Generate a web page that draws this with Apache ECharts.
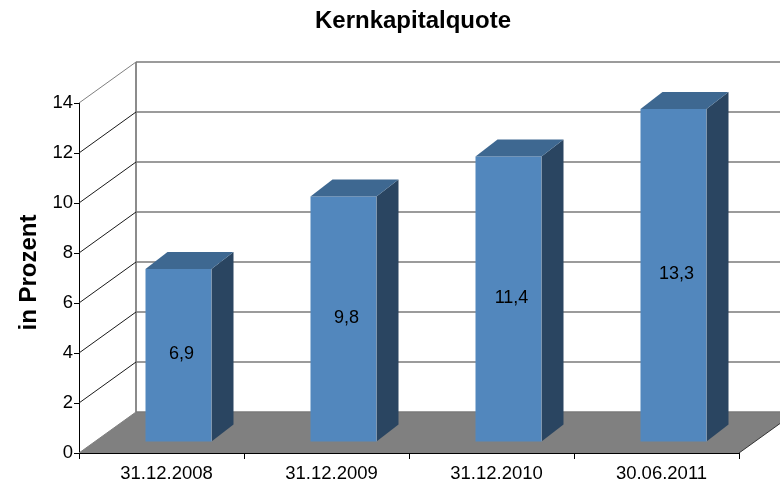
<!DOCTYPE html>
<html>
<head>
<meta charset="utf-8">
<script src="https://cdn.jsdelivr.net/npm/echarts@6/dist/echarts.min.js"></script>
<style>
  html, body { margin: 0; padding: 0; background: #fff; }
  #chart { width: 780px; height: 483px; }
</style>
</head>
<body>
<div id="chart"></div>
<script>
const categories = ['31.12.2008', '31.12.2009', '31.12.2010', '30.06.2011'];
const quote = [6.9, 9.8, 11.4, 13.3];
const yTicks = [0, 2, 4, 6, 8, 10, 12, 14];

// depth of the fake 3d box, px
const DX = 57;
const DY = 41;
// bar sits a bit inside the box
const BAR_DX = 17;
const BAR_DY = 11.5;
const BAR_SIDE_DX = 22;
const BAR_SIDE_DY = 17;
const FONT = '"Liberation Sans", Arial, sans-serif';

function line(x1, y1, x2, y2, stroke, lineWidth) {
  return { type: 'line', shape: { x1, y1, x2, y2 }, style: { stroke, lineWidth } };
}
function poly(points, fill) {
  return { type: 'polygon', shape: { points }, style: { fill } };
}

function renderWall(params, api) {
  const v = api.value(0);
  const y = api.coord([0, v])[1];
  const left = params.coordSys.x;
  const right = left + params.coordSys.width;
  const children = [];
  const diagColor = v === 14 || v === 0 ? '#808080' : '#1a1a1a';
  if (v === 0) {
    children.push(poly([[left, y], [left + DX, y - DY], [right + DX, y - DY], [right, y]], '#808080'));
    children.push(line(left + DX, y - DY, left + DX, params.coordSys.y - DY, '#8c8c8c', 2));
    children.push(line(right, y, right + DX, y - DY, '#333', 1));
  }
  children.push(line(left, y, left + DX, y - DY, diagColor, 1));
  children.push(line(left + DX, y - DY, right + DX, y - DY, '#7a7a7a', 1.5));
  return { type: 'group', children };
}

function renderBar(params, api) {
  const i = api.value(0);
  const v = api.value(1);
  const band = api.size([1, 0])[0];
  const w = band * 0.4;
  const cx = api.coord([i, 0])[0];
  const base = api.coord([i, 0])[1] - BAR_DY;
  const top = api.coord([i, v])[1] - BAR_DY;
  const x0 = cx + BAR_DX - w / 2;
  const x1 = x0 + w;
  return {
    type: 'group',
    children: [
      poly([[x0, base], [x1, base], [x1, top], [x0, top]], '#5287bd'),
      poly([[x1, base], [x1 + BAR_SIDE_DX, base - BAR_SIDE_DY], [x1 + BAR_SIDE_DX, top - BAR_SIDE_DY], [x1, top]], '#2a4561'),
      poly([[x0, top], [x1, top], [x1 + BAR_SIDE_DX, top - BAR_SIDE_DY], [x0 + BAR_SIDE_DX, top - BAR_SIDE_DY]], '#3e6891'),
      line(x1, top, x1, base, '#7f97b0', 1),
      {
        type: 'text',
        style: {
          x: (x0 + x1) / 2 + 3,
          y: (base + top) / 2 - 1,
          text: String(v).replace('.', ','),
          font: '18px ' + FONT,
          fill: '#000',
          align: 'center',
          verticalAlign: 'middle'
        }
      }
    ]
  };
}

const chart = echarts.init(document.getElementById('chart'), null, { renderer: 'canvas' });
chart.setOption({
  animation: false,
  backgroundColor: '#fff',
  title: {
    text: 'Kernkapitalquote',
    left: 408,
    top: 4,
    textAlign: 'center',
    textStyle: { fontFamily: FONT, fontSize: 24, fontWeight: 'bold', color: '#000' }
  },
  grid: { left: 79, top: 103, width: 660, height: 350 },
  xAxis: {
    type: 'category',
    data: categories,
    axisLine: { lineStyle: { color: '#000', width: 1 } },
    axisTick: { show: true, length: 6, lineStyle: { color: '#000' } },
    axisLabel: { fontFamily: FONT, fontSize: 18.5, color: '#000', margin: 11, padding: [0, 0, 0, 10] }
  },
  yAxis: {
    type: 'value',
    min: 0,
    max: 14,
    interval: 2,
    name: 'in Prozent',
    nameLocation: 'middle',
    nameGap: 36,
    nameTextStyle: { fontFamily: FONT, fontSize: 24, fontWeight: 'bold', color: '#000', padding: [0, 0, 0, 11] },
    axisLine: { show: true, lineStyle: { color: '#000', width: 1 } },
    axisTick: { show: true, length: 5, lineStyle: { color: '#000' } },
    axisLabel: { fontFamily: FONT, fontSize: 18.5, color: '#000', margin: 6 },
    splitLine: { show: false }
  },
  series: [
    {
      type: 'custom',
      clip: false,
      z: 1,
      renderItem: renderWall,
      data: yTicks.map(v => [v]),
      encode: { y: 0 }
    },
    {
      type: 'custom',
      clip: false,
      z: 2,
      renderItem: renderBar,
      data: quote.map((v, i) => [i, v]),
      encode: { x: 0, y: 1 }
    }
  ]
});
</script>
</body>
</html>
